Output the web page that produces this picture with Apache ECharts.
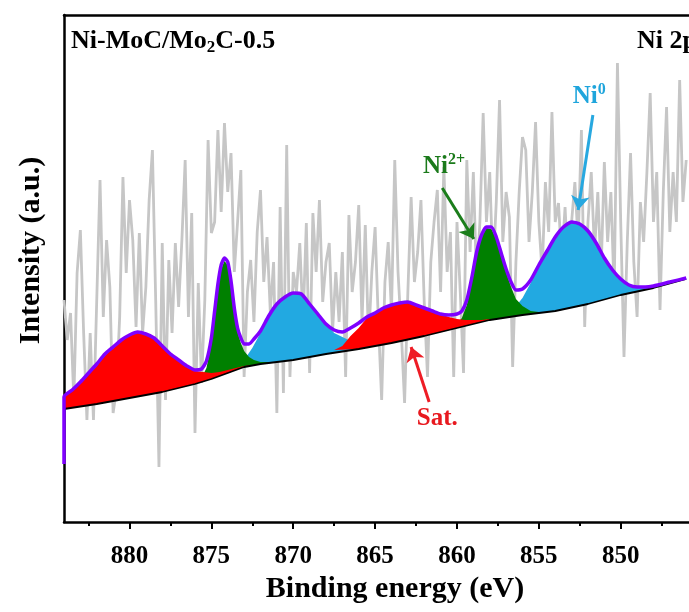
<!DOCTYPE html>
<html>
<head>
<meta charset="utf-8">
<script src="https://cdn.jsdelivr.net/npm/echarts@6/dist/echarts.min.js"></script>
<style>html,body{margin:0;padding:0;background:#fff}#c{width:689px;height:612px}</style>
</head>
<body>
<div id="c"></div>
<script>
// ---------- data (binding energy in eV, intensity in a.u.) ----------
// raw spectrum: uniform energy grid starting at rawStart, step rawStep (descending)
const rawStart = 884.0;
const rawStep = 0.2;
const rawIntensity = [
  222,182,209,122,249,292,189,102,189,102,222,342,205,282,235,109,132,205,345,249,
  322,282,195,289,189,235,322,372,222,55,279,122,262,189,279,215,282,362,205,309,
  89,239,139,222,382,289,
  300,392,310,399,330,369,250,300,352,145,230,262,200,290,332,240,285,210,260,109,
  315,129,377,145,250,230,279,200,299,149,309,250,322,220,260,279,190,250,200,270,
  145,307,230,260,317,200,297,180,250,
  295,200,122,240,280,210,362,250,190,119,230,325,240,270,322,220,145,260,300,332,
  230,355,250,290,145,300,230,149,362,270,350,240,300,409,300,350,250,320,422,280,
  330,305,155,260,330,385,372,
  280,330,400,300,250,340,290,410,300,319,260,315,250,300,340,280,392,195,300,350,
  270,330,250,360,280,330,230,459,300,165,280,369,260,205,320,280,350,429,300,350,
  212,330,415,290,350,300,442,320,362
];

// background (Shirley-type)
const bgE = [884, 882, 880, 878, 876, 875, 874, 873, 872, 870, 868, 866, 864, 862, 860, 858, 856, 854, 852, 850, 848, 846];
const bgI = [113, 118, 124, 130, 138, 143, 149, 155, 158, 162, 168, 173, 179, 186, 194, 202, 207, 211, 218, 227, 234, 243];

// fitted components (upper edge of each filled area)
const sat1E = [884, 883.5, 883, 882.5, 882, 881.5, 881, 880.5, 880, 879.5, 879, 878.5, 878, 877.5, 877, 876.5, 876, 875.5, 875, 874.5, 874, 873.5, 873, 872];
const sat1I = [125, 132, 140, 149, 158, 168, 175, 182, 187, 190, 188, 184, 176, 168, 162, 156, 151, 150, 149, 150, 152, 154, 156, 158];

const ni2aE = [876, 875.6, 875.3, 875, 874.8, 874.6, 874.4, 874.2, 874, 873.8, 873.6, 873.4, 873.2, 873, 872.7, 872.4, 872, 871.5, 871];
const ni2aI = [139, 144, 154, 178, 206, 234, 253, 261, 257, 238, 211, 190, 179, 171, 165, 162, 160, 160, 160];

const ni0aE = [873.5, 873, 872.5, 872, 871.5, 871, 870.5, 870, 869.5, 869, 868.5, 868, 867.5, 867, 866.5, 866, 865.5, 865];
const ni0aI = [154, 162, 174, 189, 205, 218, 225, 229, 228, 218, 208, 198, 189, 185, 181, 178, 177, 176];

const sat2E = [867.5, 867, 866.5, 866, 865.5, 865, 864.5, 864, 863.5, 863, 862.5, 862, 861.5, 861, 860.5, 860, 859.5, 859, 858.5, 858, 857.5];
const sat2I = [172, 176, 186, 194, 204, 209, 214, 217, 219, 220, 217, 214, 211, 208, 205, 203, 202, 202, 202, 203, 203];

const ni2bE = [861, 860.5, 860, 859.7, 859.4, 859.1, 858.8, 858.5, 858.2, 857.9, 857.6, 857.3, 857, 856.7, 856.4, 856, 855.5, 855, 854.5];
const ni2bI = [190, 194, 198, 204, 217, 240, 267, 285, 294, 293, 283, 266, 250, 235, 223, 216, 211, 210, 210];

const ni0bE = [857.5, 857, 856.5, 856, 855.5, 855, 854.5, 854, 853.5, 853, 852.5, 852, 851.5, 851, 850.5, 850, 849.5, 849, 848.5, 848, 847, 846];
const ni0bI = [204, 208, 214, 224, 239, 256, 271, 285, 295, 300, 298, 291, 279, 264, 252, 243, 237, 235, 234, 236, 240, 244];

// envelope (cumulative fit)
const envE = [884, 884, 883.5, 883, 882.5, 882, 881.5, 881, 880.5, 880, 879.5, 879, 878.5, 878, 877.5, 877, 876.5, 876, 875.6, 875.3, 875, 874.8, 874.6, 874.4, 874.2, 874, 873.8, 873.6, 873.4, 873.2, 873, 872.7, 872.4, 872, 871.5, 871, 870.5, 870, 869.5, 869, 868.5, 868, 867.5, 867, 866.5, 866, 865.5, 865, 864.5, 864, 863.5, 863, 862.5, 862, 861.5, 861, 860.5, 860, 859.7, 859.4, 859.1, 858.8, 858.5, 858.2, 857.9, 857.6, 857.3, 857, 856.7, 856.4, 856, 855.5, 855, 854.5, 854, 853.5, 853, 852.5, 852, 851.5, 851, 850.5, 850, 849.5, 849, 848.5, 848, 847, 846];
const envI = [58, 125, 132, 140, 149, 158, 168, 175, 182, 187, 190, 188, 184, 176, 168, 162, 156, 152, 153, 161, 184, 211, 238, 257, 264, 260, 241, 214, 194, 184, 178, 178, 183, 191, 206, 218, 225, 229, 228, 218, 208, 198, 192, 190, 194, 199, 205, 209, 214, 217, 219, 220, 217, 214, 211, 208, 207, 208, 211, 222, 244, 270, 287, 295, 295, 285, 269, 253, 240, 232, 233, 242, 257, 271, 285, 295, 300, 298, 291, 279, 264, 252, 243, 237, 235, 235, 236, 240, 244];

// axis ticks
const xTicks = [880, 875, 870, 865, 860, 855, 850];
const xMinorTicks = [882.5, 877.5, 872.5, 867.5, 862.5, 857.5, 852.5, 847.5];
const xMin = 845.83, xMax = 884;

// annotation anchors (data coordinates)
const arrowNi0 = [[851.7, 407], [852.6, 312]];
const arrowNi2 = [[860.9, 334], [858.97, 283]];
const arrowSat = [[861.7, 120], [862.8, 175]];
const labelNi0 = [852.93, 425];
const labelNi2 = [862.08, 355];
const labelSat = [862.45, 103];

// ---------- chart ----------
const FONT = 'Liberation Serif';
const chart = echarts.init(document.getElementById('c'), null, { renderer: 'canvas' });

function fillPolygon(E, I, color) {
  return {
    type: 'custom', silent: true, clip: true, z: 2,
    data: [[E[0], I[0]]],
    renderItem: function (params, api) {
      const lo = Math.min(E[0], E[E.length - 1]);
      const hi = Math.max(E[0], E[E.length - 1]);
      const pts = [];
      for (let k = 0; k < E.length; k++) pts.push(api.coord([E[k], I[k]]));
      for (let j = bgE.length - 1; j >= 0; j--) {
        if (bgE[j] >= lo && bgE[j] <= hi) pts.push(api.coord([bgE[j], bgI[j]]));
      }
      return { type: 'polygon', shape: { points: pts }, style: { fill: color, stroke: null } };
    }
  };
}

const zip = (E, I) => E.map((e, k) => [e, I[k]]);
const rawData = rawIntensity.map((v, i) => [+(rawStart - i * rawStep).toFixed(2), v]);

function richFor(color) {
  return {
    a: { fontFamily: FONT, fontWeight: 'bold', fontSize: 25, lineHeight: 30, color: color },
    s: { fontFamily: FONT, fontWeight: 'bold', fontSize: 16, lineHeight: 20, verticalAlign: 'top', color: color }
  };
}

const option = {
  animation: false,
  backgroundColor: '#ffffff',
  grid: { left: 64, right: 0, top: 15, bottom: 90, show: false },
  title: [
    {
      text: '{a|Ni-MoC/Mo}{b|2}{a|C-0.5}', left: 71, top: 26, padding: 0,
      textStyle: {
        rich: {
          a: { fontFamily: FONT, fontWeight: 'bold', fontSize: 26, lineHeight: 30, color: '#000' },
          b: { fontFamily: FONT, fontWeight: 'bold', fontSize: 17, lineHeight: 12, verticalAlign: 'bottom', color: '#000' }
        }
      }
    },
    {
      text: 'Ni 2p', left: 637, top: 26, padding: 0,
      textStyle: { fontFamily: FONT, fontWeight: 'bold', fontSize: 26, lineHeight: 30, color: '#000' }
    }
  ],
  xAxis: [
    {
      type: 'value', min: xMin, max: xMax, inverse: true,
      name: 'Binding energy (eV)', nameLocation: 'middle', nameGap: 48,
      nameTextStyle: { fontFamily: FONT, fontWeight: 'bold', fontSize: 30, color: '#000', padding: [0, 0, 0, 37] },
      axisLine: { show: true, lineStyle: { color: '#000', width: 2.5 } },
      axisTick: { show: true, inside: false, length: 7, lineStyle: { color: '#000', width: 2 }, customValues: xTicks },
      axisLabel: { show: true, margin: 22, customValues: xTicks, fontFamily: FONT, fontWeight: 'bold', fontSize: 25, color: '#000' },
      splitLine: { show: false }, minorTick: { show: false }
    },
    {
      type: 'value', min: xMin, max: xMax, inverse: true, position: 'bottom',
      axisLine: { show: false },
      axisTick: { show: true, inside: false, length: 4, lineStyle: { color: '#000', width: 2 }, customValues: xMinorTicks },
      axisLabel: { show: false },
      splitLine: { show: false }
    },
    {
      type: 'value', min: xMin, max: xMax, inverse: true, position: 'top',
      axisLine: { show: true, lineStyle: { color: '#000', width: 2.5 } },
      axisTick: { show: false }, axisLabel: { show: false }, splitLine: { show: false }
    }
  ],
  yAxis: {
    type: 'value', min: 0, max: 507,
    name: 'Intensity (a.u.)', nameLocation: 'middle', nameRotate: 90, nameGap: 18,
    nameTextStyle: { fontFamily: FONT, fontWeight: 'bold', fontSize: 30, color: '#000', padding: [0, 0, 0, 36] },
    axisLine: { show: true, lineStyle: { color: '#000', width: 2.5 } },
    axisTick: { show: false }, axisLabel: { show: false }, splitLine: { show: false }
  },
  series: [
    {
      name: 'raw', type: 'line', data: rawData, showSymbol: false, symbol: 'none', z: 1,
      lineStyle: { color: '#c6c6c6', width: 2.8 }, silent: true
    },
    fillPolygon(ni0aE, ni0aI, '#22a9e1'),
    fillPolygon(ni0bE, ni0bI, '#22a9e1'),
    fillPolygon(ni2aE, ni2aI, '#008000'),
    fillPolygon(ni2bE, ni2bI, '#008000'),
    fillPolygon(sat1E, sat1I, '#ff0000'),
    fillPolygon(sat2E, sat2I, '#ff0000'),
    {
      name: 'background', type: 'line', data: zip(bgE, bgI), showSymbol: false, symbol: 'none', z: 3,
      lineStyle: { color: '#000', width: 1.8 }, silent: true
    },
    {
      name: 'envelope', type: 'line', data: zip(envE, envI), showSymbol: false, symbol: 'none', z: 4,
      smooth: 0.2, lineStyle: { color: '#7f00ff', width: 3.5 }, silent: true
    },
    {
      name: 'annotations', type: 'line', data: [], z: 5, silent: true,
      markLine: {
        silent: true, animation: false, symbol: ['none', 'arrow'], symbolSize: 14,
        label: { show: false },
        data: [
          [{ coord: arrowNi0[0], lineStyle: { color: '#27a8e0', width: 3, type: 'solid' } }, { coord: arrowNi0[1] }],
          [{ coord: arrowNi2[0], lineStyle: { color: '#1b7d1b', width: 3, type: 'solid' } }, { coord: arrowNi2[1] }],
          [{ coord: arrowSat[0], lineStyle: { color: '#ee1c25', width: 3, type: 'solid' } }, { coord: arrowSat[1] }]
        ]
      },
      markPoint: {
        silent: true, animation: false, symbolSize: 0,
        label: { show: true, position: 'right', distance: 0 },
        data: [
          { coord: labelNi0, label: { formatter: '{a|Ni}{s|0}', rich: richFor('#1fa5dc') } },
          { coord: labelNi2, label: { formatter: '{a|Ni}{s|2+}', rich: richFor('#1b7a1b') } },
          { coord: labelSat, label: { formatter: '{a|Sat.}', rich: richFor('#e8191f') } }
        ]
      }
    }
  ]
};
chart.setOption(option);
</script>
</body>
</html>
